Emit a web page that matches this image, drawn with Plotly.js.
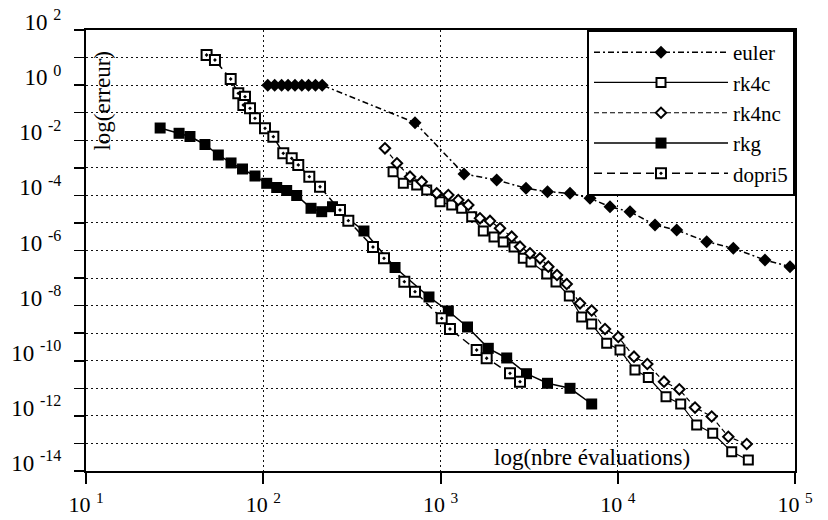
<!DOCTYPE html>
<html>
<head>
<meta charset="utf-8">
<script src="https://cdn.plot.ly/plotly-3.0.1.min.js"></script>
<style>
html, body { margin: 0; padding: 0; background: #ffffff; }
#chart { width: 828px; height: 520px; }
</style>
</head>
<body>
<div id="chart"></div>
<script>
// ---- data (number of evaluations, error) ----
const eulerX = [106, 116, 127, 138, 151, 165, 180, 197, 215, 718, 1357, 2075, 3037, 4016, 5378, 6972, 9045, 11724, 16230, 21510, 31760, 44870, 67700, 93720];
const eulerY = [1, 1, 1, 1, 1, 1, 1, 1, 1, 0.0433, 5.96e-4, 3.61e-4, 1.81e-4, 1.36e-4, 1.19e-4, 7.83e-5, 3.88e-5, 2.56e-5, 8.42e-6, 5.54e-6, 2.09e-6, 1.20e-6, 4.52e-7, 2.58e-7];

const rk4cX = [540, 617, 734, 836, 994, 1157, 1317, 1500, 1744, 2004, 2261, 2599, 2932, 3241, 3975, 4483, 5330, 6260, 7128, 8662, 10297, 12510, 14874, 18720, 22655, 27880, 34330, 43950, 54530];
const rk4cY = [7.22e-4, 2.74e-4, 2.38e-4, 1.57e-4, 5.89e-5, 4.47e-5, 3.40e-5, 1.68e-5, 5.10e-6, 3.09e-6, 2.03e-6, 1.34e-6, 5.21e-7, 3.83e-7, 1.40e-7, 7.19e-8, 2.23e-8, 3.87e-9, 2.15e-9, 4.30e-10, 2.45e-10, 4.62e-11, 2.47e-11, 4.96e-12, 2.70e-12, 4.67e-13, 2.33e-13, 5.01e-14, 2.51e-14];

const rk4ncX = [486, 568, 673, 783, 952, 1107, 1260, 1435, 1670, 1902, 2166, 2522, 2809, 3198, 3642, 4058, 4542, 5152, 6124, 7128, 8474, 10072, 12350, 14680, 18239, 22248, 27284, 33884, 42050, 53410];
const rk4ncY = [5.1e-3, 1.46e-3, 4.76e-4, 3.13e-4, 1.19e-4, 1.03e-4, 6.80e-5, 4.47e-5, 1.47e-5, 1.18e-5, 6.39e-6, 3.17e-6, 1.37e-6, 7.91e-7, 5.21e-7, 2.58e-7, 1.29e-7, 6.09e-8, 1.21e-8, 6.65e-9, 1.42e-9, 7.27e-10, 1.40e-10, 7.62e-11, 1.74e-11, 9.21e-12, 2.01e-12, 9.49e-13, 1.75e-13, 9.54e-14];

const rkgX = [26.2, 33.5, 38.6, 46.9, 55.8, 65.8, 76.4, 89.8, 104.6, 119.1, 135.6, 154.4, 186.0, 213.7, 245.9, 370, 554, 861, 1107, 1420, 1861, 2363, 3057, 4016, 5378, 7128];
const rkgY = [0.0278, 0.0179, 0.0137, 7.01e-3, 2.92e-3, 1.50e-3, 9.06e-4, 5.04e-4, 2.74e-4, 1.93e-4, 1.50e-4, 9.9e-5, 3.40e-5, 2.56e-5, 3.88e-5, 5.10e-6, 2.42e-7, 2.06e-8, 6.38e-9, 1.68e-9, 2.83e-10, 1.26e-10, 3.39e-11, 1.52e-11, 1.00e-11, 2.70e-12];

const dopri5X = [47.9, 53.4, 65.5, 72.3, 78.9, 77.2, 84.2, 89.8, 102.3, 114.0, 129.7, 144.7, 157.6, 181.9, 209.1, 271, 302, 416, 480, 625, 718, 1016, 1131, 1600, 1822, 2467, 2809];
const dopri5Y = [12.4, 8.16, 1.67, 0.505, 0.38, 0.19, 0.144, 0.0626, 0.0271, 0.01345, 3.36e-3, 2.21e-3, 1.27e-3, 4.76e-4, 2.06e-4, 2.95e-5, 1.21e-5, 1.34e-6, 5.21e-7, 7.38e-8, 3.20e-8, 3.47e-9, 1.42e-9, 2.45e-10, 1.23e-10, 3.50e-11, 1.74e-11];

const seriesNames = ["euler", "rk4c", "rk4nc", "rkg", "dopri5"];

// tick labels (labelled decades) and all decades (tick marks / grid)
const xTickExp = [1, 2, 3, 4, 5];
const xTickText = ["10 <sup>1</sup>", "10 <sup>2</sup>", "10 <sup>3</sup>", "10 <sup>4</sup>", "10 <sup>5</sup>"];
const yTickExp = [2, 0, -2, -4, -6, -8, -10, -12, -14];
const yTickText = ["10 <sup>2</sup>", "10 <sup>0</sup>", "10 <sup>-2</sup>", "10 <sup>-4</sup>", "10 <sup>-6</sup>", "10 <sup>-8</sup>", "10 <sup>-10</sup>", "10 <sup>-12</sup>", "10 <sup>-14</sup>"];
const yMinorExp = [1, -1, -3, -5, -7, -9, -11, -13];

const xTitle = "log(nbre évaluations)";
const yTitle = "log(erreur)";

// ---- chart ----
const FONT = "Liberation Serif";
const GRID = "#111";
const GRIDDASH = "2px,3px";

const traces = [
  {
    x: eulerX, y: eulerY, name: seriesNames[0], mode: "lines+markers", type: "scatter",
    line: { color: "black", width: 1.5, dash: "6px,3px,2px,3px" },
    marker: { symbol: "diamond", size: 10, color: "black", line: { width: 0 } }
  },
  {
    x: rk4cX, y: rk4cY, name: seriesNames[1], mode: "lines+markers", type: "scatter",
    line: { color: "black", width: 1.2 },
    marker: { symbol: "square", size: 9, color: "white", line: { color: "black", width: 2 } }
  },
  {
    x: rk4ncX, y: rk4ncY, name: seriesNames[2], mode: "lines+markers", type: "scatter",
    line: { color: "black", width: 1.2, dash: "5px,3px" },
    marker: { symbol: "diamond", size: 8, color: "white", line: { color: "black", width: 2 } }
  },
  {
    x: rkgX, y: rkgY, name: seriesNames[3], mode: "lines+markers", type: "scatter",
    line: { color: "black", width: 1.5 },
    marker: { symbol: "square", size: 11, color: "black", line: { width: 0 } }
  },
  {
    x: dopri5X, y: dopri5Y, name: seriesNames[4], mode: "lines+markers", type: "scatter",
    line: { color: "black", width: 1.5, dash: "8px,5px" },
    marker: { symbol: "square-dot", size: 10, color: "white", line: { color: "black", width: 2 } }
  }
];

const layout = {
  width: 828, height: 520,
  margin: { l: 86, r: 33, t: 30, b: 49 },
  paper_bgcolor: "white", plot_bgcolor: "white",
  font: { family: FONT, size: 22, color: "black" },
  showlegend: true,
  legend: {
    x: 1, xanchor: "right", y: 1, yanchor: "top",
    bgcolor: "white", bordercolor: "black", borderwidth: 2,
    font: { family: FONT, size: 21, color: "black" },
    itemwidth: 134, tracegroupgap: 0
  },
  xaxis: {
    type: "log", range: [1, 5],
    tickmode: "array",
    tickvals: xTickExp.map(e => Math.pow(10, e)),
    ticktext: xTickText,
    ticks: "outside", ticklen: 11, tickwidth: 2, tickcolor: "black",
    ticklabelstandoff: 2,
    showline: true, mirror: true, linewidth: 2, linecolor: "black",
    showgrid: true, gridcolor: GRID, gridwidth: 1, griddash: GRIDDASH,
    zeroline: false,
    tickfont: { family: FONT, size: 22, color: "black" }
  },
  yaxis: {
    type: "log", range: [-14, 2],
    tickmode: "array",
    tickvals: yTickExp.map(e => Math.pow(10, e)),
    ticktext: yTickText,
    ticks: "outside", ticklen: 10, tickwidth: 1.5, tickcolor: "black",
    ticklabelstandoff: 8, ticklabelshift: -8,
    minor: {
      tickmode: "array",
      tickvals: yMinorExp.map(e => Math.pow(10, e)),
      ticks: "outside", ticklen: 10, tickwidth: 1.5, tickcolor: "black",
      showgrid: true, gridcolor: GRID, gridwidth: 1, griddash: GRIDDASH
    },
    showline: true, mirror: true, linewidth: 2, linecolor: "black",
    showgrid: true, gridcolor: GRID, gridwidth: 1, griddash: GRIDDASH,
    zeroline: false,
    tickfont: { family: FONT, size: 23, color: "black" }
  },
  annotations: [
    {
      text: yTitle, xref: "paper", yref: "paper", x: 0.024, y: 0.84,
      xanchor: "center", yanchor: "middle", textangle: -90, showarrow: false,
      font: { family: FONT, size: 23, color: "black" }
    },
    {
      text: xTitle, xref: "paper", yref: "paper", x: 0.714, y: 0.03,
      xanchor: "center", yanchor: "middle", showarrow: false,
      font: { family: FONT, size: 23, color: "black" }
    }
  ]
};

Plotly.newPlot("chart", traces, layout, { displayModeBar: false, staticPlot: true });
</script>
</body>
</html>
